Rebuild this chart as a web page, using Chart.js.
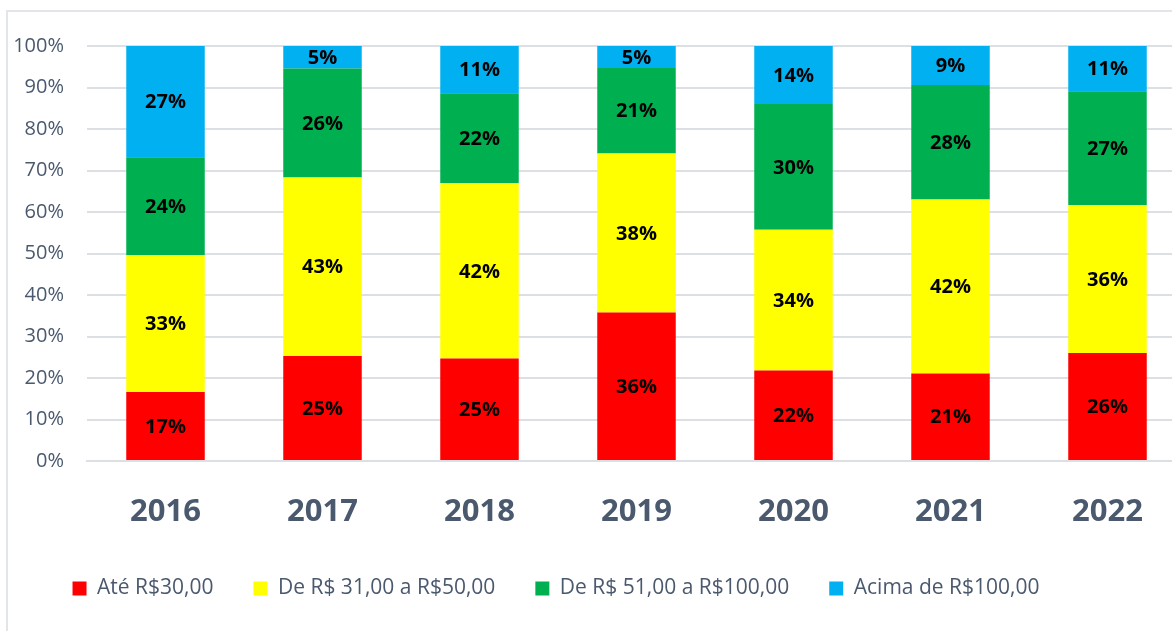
<!DOCTYPE html>
<html lang="pt-BR">
<head>
  <meta charset="UTF-8">
  <title>Faixas de valor 2016-2022</title>
  <script src="https://cdn.jsdelivr.net/npm/chart.js@4.4.1/dist/chart.umd.min.js"></script>
  <style>
    body { margin: 0; overflow: hidden; background: #fff; }
    #frame { position: absolute; left: 6px; top: 10px; width: 2000px; height: 2000px;
             border-left: 2px solid #e2e5ea; border-top: 2px solid #e2e5ea; }
    #wrap { position: absolute; left: 0; top: 0; width: 1186px; height: 631px; }
  </style>
</head>
<body>
  <div id="frame"></div>
  <div id="wrap">
    <canvas id="myChart" width="1186" height="631"></canvas>
  </div>
<script>
  // anos
  var v_years = ['2016', '2017', '2018', '2019', '2020', '2021', '2022'];
  // faixas (% de cada ano)
  var v_ate30   = [16.6, 25.3, 24.7, 35.8, 21.8, 21.1, 26.0];
  var v_de31a50 = [33.0, 43.0, 42.2, 38.3, 33.9, 41.9, 35.7];
  var v_de51a100 = [23.6, 26.3, 21.7, 20.6, 30.3, 27.6, 27.4];
  var v_acima100 = [26.8, 5.4, 11.4, 5.3, 14.0, 9.4, 10.9];
  var v_labels = ['Até R$30,00', 'De R$ 31,00 a R$50,00', 'De R$ 51,00 a R$100,00', 'Acima de R$100,00'];
  var v_yTicks = [0, 10, 20, 30, 40, 50, 60, 70, 80, 90, 100];

  var c_text = '#4a596e';
  var c_grid = '#dcdfe4';

  // rotulo no meio de cada pedaco da barra
  var p_barLabels = {
    id: 'barLabels',
    afterDatasetsDraw: function(chart) {
      var ctx = chart.ctx;
      ctx.save();
      ctx.font = 'bold 20px "Open Sans"';
      ctx.fillStyle = '#000';
      ctx.textAlign = 'center';
      ctx.textBaseline = 'middle';
      chart.data.datasets.forEach(function(ds, i) {
        chart.getDatasetMeta(i).data.forEach(function(bar, j) {
          var y = (bar.y + bar.base) / 2;
          ctx.fillText(Math.round(ds.data[j]) + '%', bar.x, y + 1);
        });
      });
      ctx.restore();
    }
  };

  // legenda um pouco pra esquerda (como no excel)
  var p_legendShift = {
    id: 'legendShift',
    afterUpdate: function(chart) {
      chart.legend.left -= 41;
      chart.legend.right -= 41;
    }
  };

  var ctx = document.getElementById('myChart').getContext('2d');
  var myChart = new Chart(ctx, {
    type: 'bar',
    data: {
      labels: v_years,
      datasets: [
        { label: v_labels[0], data: v_ate30, backgroundColor: '#ff0000' },
        { label: v_labels[1], data: v_de31a50, backgroundColor: '#ffff00' },
        { label: v_labels[2], data: v_de51a100, backgroundColor: '#00b050' },
        { label: v_labels[3], data: v_acima100, backgroundColor: '#00b0f0' }
      ]
    },
    options: {
      responsive: false,
      animation: false,
      layout: { padding: { left: 8, right: 0, top: 46, bottom: 22 } },
      datasets: { bar: { categoryPercentage: 0.5, barPercentage: 1, borderWidth: 0 } },
      plugins: {
        tooltip: { enabled: false },
        legend: {
          position: 'bottom',
          labels: {
            boxWidth: 14, boxHeight: 14, padding: 40,
            color: c_text,
            font: { family: '"Open Sans"', size: 21 }
          }
        }
      },
      scales: {
        x: {
          stacked: true,
          grid: { display: false },
          border: { color: c_grid, width: 2 },
          ticks: { color: c_text, padding: 25, font: { family: '"Open Sans"', size: 31, weight: 'bold' } },
          afterFit: function(s) { s.height = 77; }
        },
        y: {
          stacked: true,
          min: 0, max: 100,
          afterBuildTicks: function(s) { s.ticks = v_yTicks.map(function(v) { return { value: v }; }); },
          grid: { color: c_grid, lineWidth: 2, drawTicks: false },
          border: { display: false },
          ticks: {
            color: c_text, padding: 23,
            font: { family: '"Open Sans"', size: 20 },
            callback: function(v) { return v + '%'; }
          },
          afterFit: function(s) { s.width = 79; }
        }
      }
    },
    plugins: [p_barLabels, p_legendShift]
  });
</script>
</body>
</html>
